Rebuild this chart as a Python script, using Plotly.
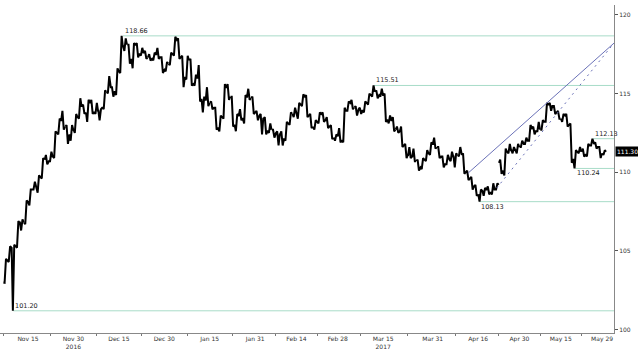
import pandas as pd
import plotly.graph_objects as go

# ---------------- data ----------------
days = pd.bdate_range("2016-11-07", "2017-05-29")

open_ = [
    103.0, 104.4, 105.2, 105.3, 106.8,
    106.8, 108.1, 108.9, 109.1, 109.7,
    110.8, 110.7, 111.0, 112.5, 113.3,
    112.9, 112.4, 112.7, 113.5, 114.2,
    113.8, 114.4, 113.8, 113.9, 114.1,
    115.1, 115.4, 115.1, 116.4, 118.0,
    118.1, 117.2, 118.1, 117.5, 117.6,
    117.3, 117.2, 117.5, 117.3, 116.5,
    116.9, 117.5, 118.4, 117.3, 116.0,
    117.1, 115.6, 116.0, 114.6, 114.6,
    114.4, 114.1, 112.8, 113.5, 115.4,
    114.8, 113.0, 113.6, 113.4, 114.8,
    114.7, 113.8, 113.6, 113.4, 112.6,
    112.7, 112.5, 112.4, 112.1, 113.1,
    113.7, 113.7, 114.3, 114.8, 113.6,
    112.9, 113.2, 113.7, 113.3, 112.9,
    112.2, 112.3, 112.0, 113.9, 114.4,
    114.1, 114.0, 113.9, 114.4, 114.9,
    115.1, 114.9, 114.9, 113.3, 113.3,
    112.7, 112.6, 111.7, 111.1, 111.0,
    110.7, 110.3, 110.8, 111.2, 111.8,
    111.6, 111.0, 110.5, 110.8, 111.0,
    111.1, 111.1, 110.0, 109.6, 109.1,
    108.6, 108.8, 108.9, 108.7, 108.9,
    110.6, 110.1, 111.3, 111.4, 111.4,
    111.6, 111.8, 112.0, 112.8, 112.6,
    112.7, 113.2, 114.3, 114.2, 113.8,
    113.4, 113.6, 113.0, 110.8, 111.3,
    111.3, 111.1, 111.7, 111.8, 111.6,
    111.2]

high = [
    104.5, 105.3, 105.4, 106.9, 107.0,
    108.2, 108.9, 109.4, 109.8, 110.9,
    111.1, 111.3, 112.6, 113.4, 113.9,
    113.0, 113.0, 113.7, 114.7, 114.3,
    114.6, 114.6, 114.4, 114.0, 115.2,
    116.1, 115.4, 116.6, 118.66, 118.5,
    118.1, 118.2, 118.2, 117.9, 117.7,
    117.5, 117.6, 117.9, 117.3, 117.0,
    117.6, 118.6, 118.5, 117.4, 117.4,
    117.2, 116.2, 116.8, 114.8, 115.4,
    114.5, 114.1, 113.6, 115.6, 115.6,
    114.8, 113.7, 114.0, 114.9, 115.3,
    114.8, 113.9, 113.7, 113.5, 113.1,
    112.7, 112.6, 112.6, 113.2, 113.8,
    114.1, 114.4, 114.95, 114.9, 113.7,
    113.3, 113.8, 113.8, 113.5, 113.0,
    112.4, 112.8, 114.1, 114.5, 114.6,
    114.2, 114.1, 114.5, 115.0, 115.51,
    115.2, 115.3, 115.0, 113.6, 113.5,
    112.9, 112.9, 111.8, 111.6, 111.5,
    110.8, 110.9, 111.4, 111.9, 112.2,
    111.6, 111.0, 111.1, 111.3, 111.2,
    111.6, 111.2, 110.1, 109.7, 109.2,
    108.9, 109.0, 109.1, 109.3, 109.3,
    110.8, 111.5, 111.8, 111.6, 111.8,
    112.0, 112.2, 113.0, 112.9, 113.2,
    113.3, 114.4, 114.4, 114.2, 113.9,
    113.7, 113.7, 113.1, 111.4, 111.6,
    111.5, 111.8, 112.13, 111.9, 111.6,
    111.4]

low = [
    102.98, 104.3, 101.2, 105.2, 106.3,
    106.7, 107.9, 108.9, 108.7, 109.6,
    110.5, 110.7, 110.9, 112.4, 112.7,
    111.8, 112.0, 112.5, 113.4, 113.7,
    113.2, 113.7, 113.7, 113.3, 114.0,
    115.0, 114.8, 114.9, 116.3, 117.7,
    116.9, 116.6, 117.3, 117.4, 117.2,
    117.1, 117.1, 117.2, 116.3, 116.4,
    116.8, 117.4, 117.2, 115.4, 115.9,
    115.5, 115.5, 114.5, 113.8, 114.2,
    114.0, 112.7, 112.6, 113.4, 114.6,
    112.9, 112.6, 113.3, 113.1, 114.6,
    113.7, 113.3, 112.4, 112.4, 112.5,
    112.2, 111.7, 111.7, 112.0, 113.0,
    113.5, 113.4, 114.2, 113.5, 112.8,
    112.7, 113.1, 113.2, 112.8, 112.1,
    112.0, 111.9, 111.9, 113.9, 114.0,
    113.6, 113.7, 113.8, 114.3, 114.8,
    114.7, 114.8, 113.2, 113.1, 112.6,
    112.5, 111.6, 110.9, 110.9, 110.7,
    110.1, 110.2, 110.7, 111.1, 111.5,
    110.9, 110.3, 110.5, 110.7, 110.3,
    111.0, 109.9, 109.5, 108.9, 108.5,
    108.13, 108.5, 108.6, 108.6, 108.9,
    109.9, 109.8, 111.2, 111.2, 111.2,
    111.6, 111.8, 112.0, 112.4, 112.6,
    112.7, 113.2, 113.9, 113.7, 113.4,
    113.2, 112.9, 110.6, 110.24, 111.2,
    111.0, 111.0, 111.7, 111.5, 110.9,
    111.1]

close = [
    104.4, 105.2, 105.3, 106.8, 106.8,
    108.1, 108.9, 109.1, 109.7, 110.8,
    110.7, 111.0, 112.5, 113.3, 112.9,
    112.4, 112.7, 113.5, 114.2, 113.8,
    114.4, 113.8, 113.9, 114.1, 115.1,
    115.4, 115.1, 116.4, 118.0, 118.1,
    117.2, 118.1, 117.5, 117.6, 117.3,
    117.2, 117.5, 117.3, 116.5, 116.9,
    117.5, 118.4, 117.3, 116.0, 117.1,
    115.6, 116.0, 114.6, 114.6, 114.4,
    114.1, 112.8, 113.5, 115.4, 114.8,
    113.0, 113.6, 113.4, 114.8, 114.7,
    113.8, 113.6, 113.4, 112.6, 112.7,
    112.5, 112.4, 112.1, 113.1, 113.7,
    113.7, 114.3, 114.8, 113.6, 112.9,
    113.2, 113.7, 113.3, 112.9, 112.2,
    112.3, 112.0, 113.9, 114.4, 114.1,
    114.0, 113.9, 114.4, 114.9, 115.1,
    114.9, 114.9, 113.3, 113.3, 112.7,
    112.6, 111.7, 111.1, 111.0, 110.7,
    110.3, 110.8, 111.2, 111.8, 111.6,
    111.0, 110.5, 110.8, 111.0, 111.1,
    111.1, 110.0, 109.6, 109.1, 108.6,
    108.8, 108.9, 108.7, 108.9, 109.2,
    110.1, 111.3, 111.4, 111.4, 111.6,
    111.8, 112.0, 112.8, 112.6, 112.7,
    113.2, 114.3, 114.2, 113.8, 113.4,
    113.6, 113.0, 110.8, 111.3, 111.3,
    111.1, 111.7, 111.8, 111.6, 111.2,
    111.3]

# horizontal support / resistance levels
level_values = [118.66, 115.51, 112.13, 110.24, 108.13, 101.20]
level_starts = ["2016-12-16 00:00", "2017-03-10 20:00", "2017-05-24 21:00",
                "2017-05-18 12:30", "2017-04-17 06:30", "2016-11-09 10:30"]
level_label_above = [True, True, True, False, False, True]

# trend channel
trend_solid_x = ["2017-04-12 14:00", "2017-05-31 21:20"]
trend_solid_y = [109.95, 118.2]
trend_dot_x = ["2017-04-21 12:00", "2017-05-31 21:20"]
trend_dot_y = [109.0, 118.2]

last_price = 111.30

# axis ticks
x_tick_vals = ["2016-11-15", "2016-11-30", "2016-12-15", "2016-12-30", "2017-01-16",
               "2017-01-31", "2017-02-14", "2017-02-28", "2017-03-15", "2017-03-31",
               "2017-04-17", "2017-05-01", "2017-05-15", "2017-05-29"]
x_tick_text = ["Nov 15", "Nov 30<br>2016", "Dec 15", "Dec 30", "Jan 15", "Jan 31",
               "Feb 14", "Feb 28", "Mar 15<br>2017", "Mar 31", "Apr 16", "Apr 30",
               "May 15", "May 29"]
x_minor_vals = ["2016-11-07 00:00", "2016-11-22 12:00", "2016-12-07 12:00", "2016-12-22 12:00",
                "2017-01-06 12:00", "2017-01-23 12:00", "2017-02-07 00:00", "2017-02-21 00:00",
                "2017-03-07 12:00", "2017-03-23 00:00", "2017-04-07 12:00", "2017-04-24 00:00",
                "2017-05-08 00:00", "2017-05-22 00:00"]
y_tick_vals = [100, 105, 110, 115, 120]

x_range = ["2016-11-04 05:15", "2017-05-31 21:20"]
y_range = [99.79, 120.62]

FONT = "DejaVu Sans"
LEVEL_COLOR = "#a8dcc8"
TREND_COLOR = "#6b72b8"

# ---- price path: each day's open -> extreme -> extreme -> close,
#      broken over each weekend so weekend price gaps stay open ----
path_x, path_y = [], []
prev_day = None
for d, o, h, l, c in zip(days, open_, high, low, close):
    if prev_day is not None and (d - prev_day).days > 1:
        path_x.append(prev_day + pd.Timedelta(hours=23, minutes=30))
        path_y.append(None)
    first, second = (l, h) if c >= o else (h, l)
    for hrs, val in zip((1, 8, 16, 23), (o, first, second, c)):
        path_x.append(d + pd.Timedelta(hours=hrs))
        path_y.append(val)
    prev_day = d

# ---------------- figure ----------------
fig = go.Figure()

fig.add_trace(go.Scatter(x=path_x, y=path_y, mode="lines", connectgaps=False,
                         line=dict(color="black", width=2),
                         hoverinfo="skip", showlegend=False))

fig.add_trace(go.Scatter(x=trend_solid_x, y=trend_solid_y, mode="lines",
                         line=dict(color=TREND_COLOR, width=1), showlegend=False,
                         hoverinfo="skip"))
fig.add_trace(go.Scatter(x=trend_dot_x, y=trend_dot_y, mode="lines",
                         line=dict(color=TREND_COLOR, width=1, dash="2px,4px"),
                         showlegend=False, hoverinfo="skip"))

for v, s, above in zip(level_values, level_starts, level_label_above):
    fig.add_shape(type="line", xref="x", yref="y", x0=s, x1=x_range[1], y0=v, y1=v,
                  line=dict(color=LEVEL_COLOR, width=1), layer="below")
    fig.add_annotation(x=s, y=v, xref="x", yref="y", text=f"{v:.2f}",
                       showarrow=False, xanchor="left",
                       yanchor="bottom" if above else "top",
                       yshift=-1 if above else 1,
                       font=dict(family=FONT, size=6.5, color="#222"))

fig.add_annotation(x=1, xref="paper", y=last_price, yref="y", text=f"{last_price:.2f}",
                   showarrow=False, xanchor="left", yanchor="middle", xshift=1,
                   bgcolor="black", borderpad=1,
                   font=dict(family=FONT, size=6, color="white"))

fig.update_layout(
    width=638, height=351,
    margin=dict(l=0, r=24, t=5, b=18),
    paper_bgcolor="white", plot_bgcolor="white",
    showlegend=False,
    xaxis=dict(
        type="date", range=x_range,
        rangebreaks=[dict(bounds=["sat", "mon"])],
        tickmode="array", tickvals=x_tick_vals, ticktext=x_tick_text,
        ticks="", showgrid=False, zeroline=False,
        showline=True, linecolor="#888", linewidth=1,
        tickfont=dict(family=FONT, size=6, color="#333"),
        minor=dict(tickmode="array", tickvals=x_minor_vals, ticks="outside",
                   ticklen=2, tickcolor="#777", tickwidth=1, showgrid=False),
    ),
    yaxis=dict(
        side="right", range=y_range,
        tickmode="array", tickvals=y_tick_vals,
        ticks="outside", ticklen=3, tickcolor="#555",
        showline=True, linecolor="#888", linewidth=1,
        showgrid=False, zeroline=False,
        tickfont=dict(family=FONT, size=6, color="#333"),
    ),
)

fig.write_html("out.html")
